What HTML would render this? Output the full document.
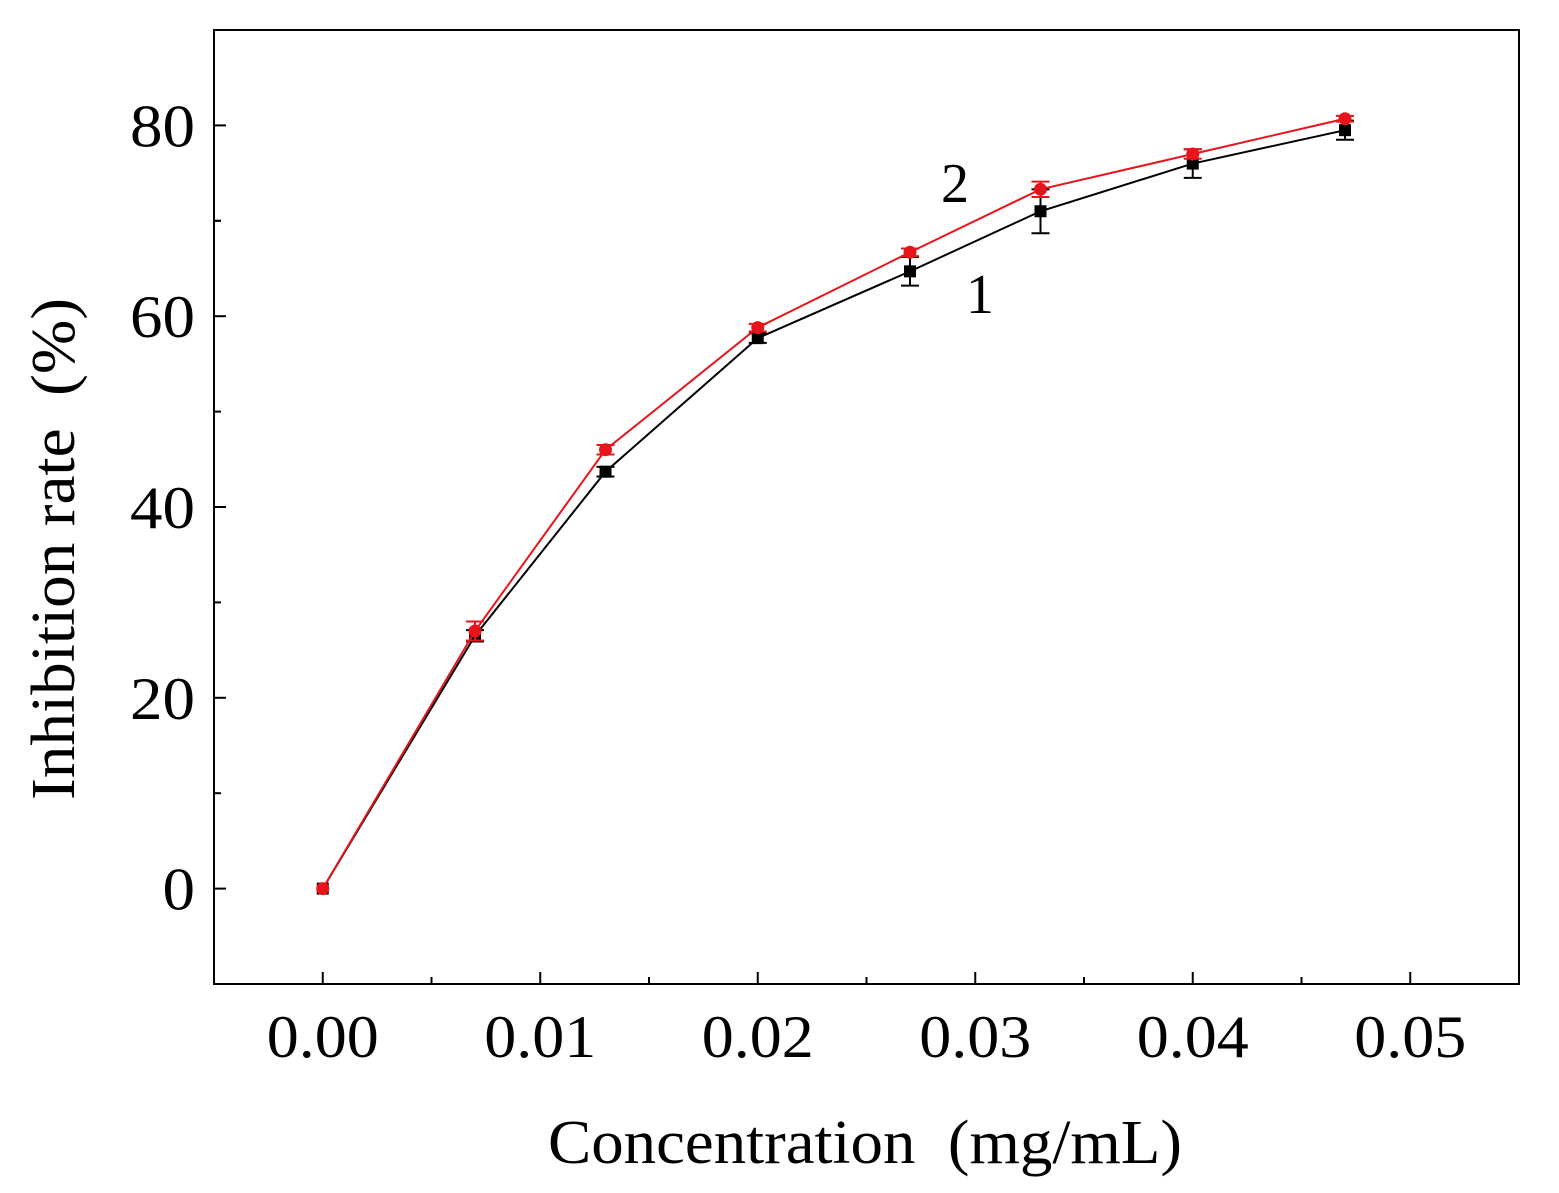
<!DOCTYPE html>
<html><head><meta charset="utf-8">
<style>
html,body{margin:0;padding:0;background:#fff;}
svg{display:block;font-family:"Liberation Serif",serif;}
text{white-space:pre;}
</style></head>
<body>
<svg id="chart" width="1559" height="1193" viewBox="0 0 1559 1193" xmlns="http://www.w3.org/2000/svg" xml:space="preserve">
<rect x="0" y="0" width="1559" height="1193" fill="#fff"/>
<g id="grid"></g>
<g id="series"></g>
<rect x="214" y="30" width="1305" height="954" fill="none" stroke="#000" stroke-width="2"/>
<text x="548" y="1163" font-size="62" textLength="634" lengthAdjust="spacingAndGlyphs">Concentration  (mg/mL)</text>
<text transform="translate(74,800) rotate(-90)" font-size="62" textLength="502" lengthAdjust="spacingAndGlyphs">Inhibition rate  (%)</text>
<text x="955" y="202" font-size="56" text-anchor="middle">2</text>
<text x="980" y="313" font-size="56" text-anchor="middle">1</text>
</svg>
<script>
const xValues=[0,0.007,0.013,0.020,0.027,0.033,0.040,0.047];
const series1=[0,26.5,43.7,57.7,64.7,71.0,76.0,79.5];
const series1Err=[0,0.6,0.5,0.5,1.5,2.3,1.5,1.0];
const series2=[0,27.0,46.0,58.8,66.7,73.3,77.0,80.7];
const series2Err=[0,1.0,0.5,0.4,0.4,0.8,0.5,0.3];
const xTicks=[0,0.01,0.02,0.03,0.04,0.05];
const xTickLabels=["0.00","0.01","0.02","0.03","0.04","0.05"];
const yTicks=[0,20,40,60,80];
const yTickLabels=["0","20","40","60","80"];

const NS="http://www.w3.org/2000/svg";
const X0=214,X1=1519,Y0=984,Y1=30;
const xMin=-0.005,xMax=0.055,yMin=-10,yMax=90;
function sx(v){return X0+(v-xMin)/(xMax-xMin)*(X1-X0);}
function sy(v){return Y0-(v-yMin)/(yMax-yMin)*(Y0-Y1);}
function mk(tag,attrs,parent){const e=document.createElementNS(NS,tag);for(const k in attrs)e.setAttribute(k,attrs[k]);parent.appendChild(e);return e;}
const g=document.getElementById('grid');
const s=document.getElementById('series');

xTicks.forEach((t,i)=>{
  const l=mk('line',{x1:sx(t),x2:sx(t),y1:Y0,y2:Y0-12,stroke:'#000','stroke-width':2},g);
  
  
  const m=mk('line',{x1:sx(t+0.005),x2:sx(t+0.005),y1:Y0,y2:Y0-7,stroke:'#000','stroke-width':2},g);
  
  
  const tx=mk('text',{x:sx(t)-56,y:1057,'font-size':60,textLength:112,lengthAdjust:'spacingAndGlyphs'},g);
  tx.textContent=xTickLabels[i];
  
  
});
yTicks.forEach((t,i)=>{
  const l=mk('line',{x1:X0,x2:X0+12,y1:sy(t),y2:sy(t),stroke:'#000','stroke-width':2},g);
  
  
  const m=mk('line',{x1:X0,x2:X0+7,y1:sy(t-10),y2:sy(t-10),stroke:'#000','stroke-width':2},g);
  
  
  const w=yTickLabels[i].length*32.5;
  const tx=mk('text',{x:195-w,y:sy(t)+21,'font-size':60,textLength:w,lengthAdjust:'spacingAndGlyphs'},g);
  tx.textContent=yTickLabels[i];
  
  
});
const m2=mk('line',{x1:X0,x2:X0+7,y1:sy(70),y2:sy(70),stroke:'#000','stroke-width':2},g);



function drawSeries(vals,errs,color,name,square){
  const pts=xValues.map((x,i)=>sx(x)+','+sy(vals[i])).join(' ');
  const pl=mk('polyline',{points:pts,fill:'none',stroke:color,'stroke-width':2},s);
  
  
  xValues.forEach((x,i)=>{
    const cx=sx(x),cy=sy(vals[i]);
    if(errs[i]>0){
      const eg=mk('g',{stroke:color,'stroke-width':2},s);
      
      
      mk('line',{x1:cx,x2:cx,y1:sy(vals[i]-errs[i]),y2:sy(vals[i]+errs[i])},eg);
      mk('line',{x1:cx-9,x2:cx+9,y1:sy(vals[i]-errs[i]),y2:sy(vals[i]-errs[i])},eg);
      mk('line',{x1:cx-9,x2:cx+9,y1:sy(vals[i]+errs[i]),y2:sy(vals[i]+errs[i])},eg);
    }
    let p;
    if(square) p=mk('rect',{x:cx-6,y:cy-6,width:12,height:12,fill:color},s);
    else p=mk('circle',{cx:cx,cy:cy,r:6.5,fill:color},s);
    
    
  });
}
drawSeries(series1,series1Err,'#000','series-1',true);
drawSeries(series2,series2Err,'#e8141c','series-2',false);
</script>
</body></html>
